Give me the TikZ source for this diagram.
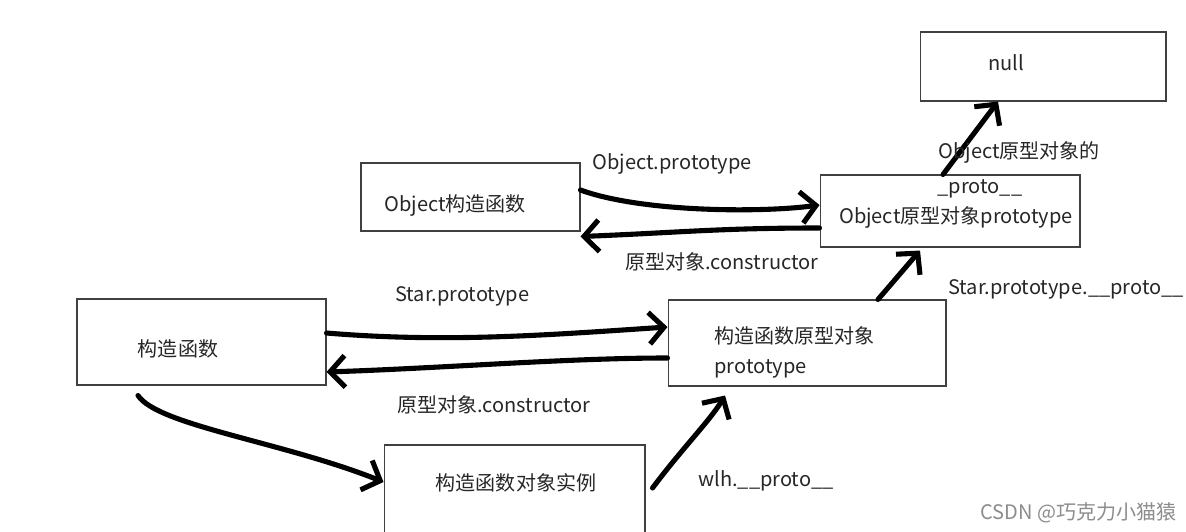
\documentclass[tikz,border=0pt]{standalone}
\usepackage{fontspec}
\setmainfont{Noto Sans CJK SC}
\usetikzlibrary{arrows.meta}

\tikzset{
  kasse/.style={draw=black!75, line width=0.6pt, inner sep=0pt},
  tekst/.style={text=black!85, font=\fontsize{11.4}{13}\selectfont, inner sep=0pt},
  pil/.style={line width=2.9pt, line cap=round, line join=round, -{Straight Barb[length=8.5pt,width=18pt]}},
}

\begin{document}
\begin{tikzpicture}[x=0.02cm, y=-0.02cm]
\useasboundingbox (0,0) rectangle (1186,531);
\clip (0,0) rectangle (1186,531);
% tegn kasser
\node[kasse, minimum width=4.92cm, minimum height=1.38cm] (null) at (1043,66.5) {};
\node[kasse, minimum width=4.38cm, minimum height=1.36cm] (objkon) at (470.5,197) {};
\node[kasse, minimum width=5.2cm, minimum height=1.44cm] (objproto) at (950,211) {};
\node[kasse, minimum width=4.98cm, minimum height=1.72cm] (konst) at (201.5,342) {};
\node[kasse, minimum width=5.56cm, minimum height=1.72cm] (proto) at (807,343) {};
\node[kasse, minimum width=5.22cm, minimum height=1.9cm] (inst) at (514.5,492.5) {};
% tekst i kasser
\node[tekst] (tnull) at (1006,63) {null};
\node[tekst] (tobjkon) at (455,205) {Object构造函数};
\node[tekst] (tproto1) at (980,189) {\_proto\_\_};
\node[tekst] (tproto2) at (956,217) {Object原型对象prototype};
\node[tekst] (tkonst) at (178,349) {构造函数};
\node[tekst, anchor=west] (tproto3) at (714,336) {构造函数原型对象};
\node[tekst, anchor=west] (tproto4) at (714,369) {prototype};
\node[tekst] (tinst) at (516,483) {构造函数对象实例};
% tegn pile
\draw[pil] ([yshift=0.14cm]objkon.east) .. controls +(60,22) and +(-60,8) .. ([yshift=0.12cm]objproto.west);
\draw[pil] ([yshift=-0.34cm]objproto.west) .. controls +(-100,0) and +(100,-4) .. ([yshift=-0.1cm]objkon.south east);
\draw[pil] ([xshift=-0.14cm]objproto.north) -- ([xshift=-0.9cm]null.south);
\draw[pil] ([yshift=0.18cm]konst.east) .. controls +(120,10) and +(-120,8) .. ([yshift=0.32cm]proto.west);
\draw[pil] ([yshift=-0.3cm]proto.west) .. controls +(-100,0) and +(120,-4) .. ([yshift=-0.6cm]konst.east);
\draw[pil] ([xshift=-1.27cm,yshift=-0.2cm]konst.south) .. controls +(20,30) and +(-100,-40) .. ([yshift=0.21cm]inst.west);
\draw[pil] ([xshift=0.14cm,yshift=0.09cm]inst.east) .. controls +(30,-40) and +(-15,25) .. ([xshift=-1.64cm,yshift=-0.18cm]proto.south);
\draw[pil] ([xshift=1.42cm]proto.north) -- ([xshift=-0.6cm,yshift=-0.06cm]objproto.south);
% tekst ved pile
\node[tekst, anchor=west] (lobjproto) at (592,164) {Object.prototype};
\node[tekst, anchor=west] (lobjkon) at (625,262) {原型对象.constructor};
\node[tekst, anchor=west] (lnull) at (938,152) {Object原型对象的};
\node[tekst, anchor=west] (lstar) at (395,296) {Star.prototype};
\node[tekst, anchor=west] (lstarproto) at (948,289) {Star.prototype.\_\_proto\_\_};
\node[tekst, anchor=west] (lkonst) at (397,405) {原型对象.constructor};
\node[tekst, anchor=west] (lwlh) at (698,481) {wlh.\_\_proto\_\_};
\node[tekst, anchor=west, text=black!45] (csdn) at (980,513) {CSDN @巧克力小猫猿};
\end{tikzpicture}
\end{document}
